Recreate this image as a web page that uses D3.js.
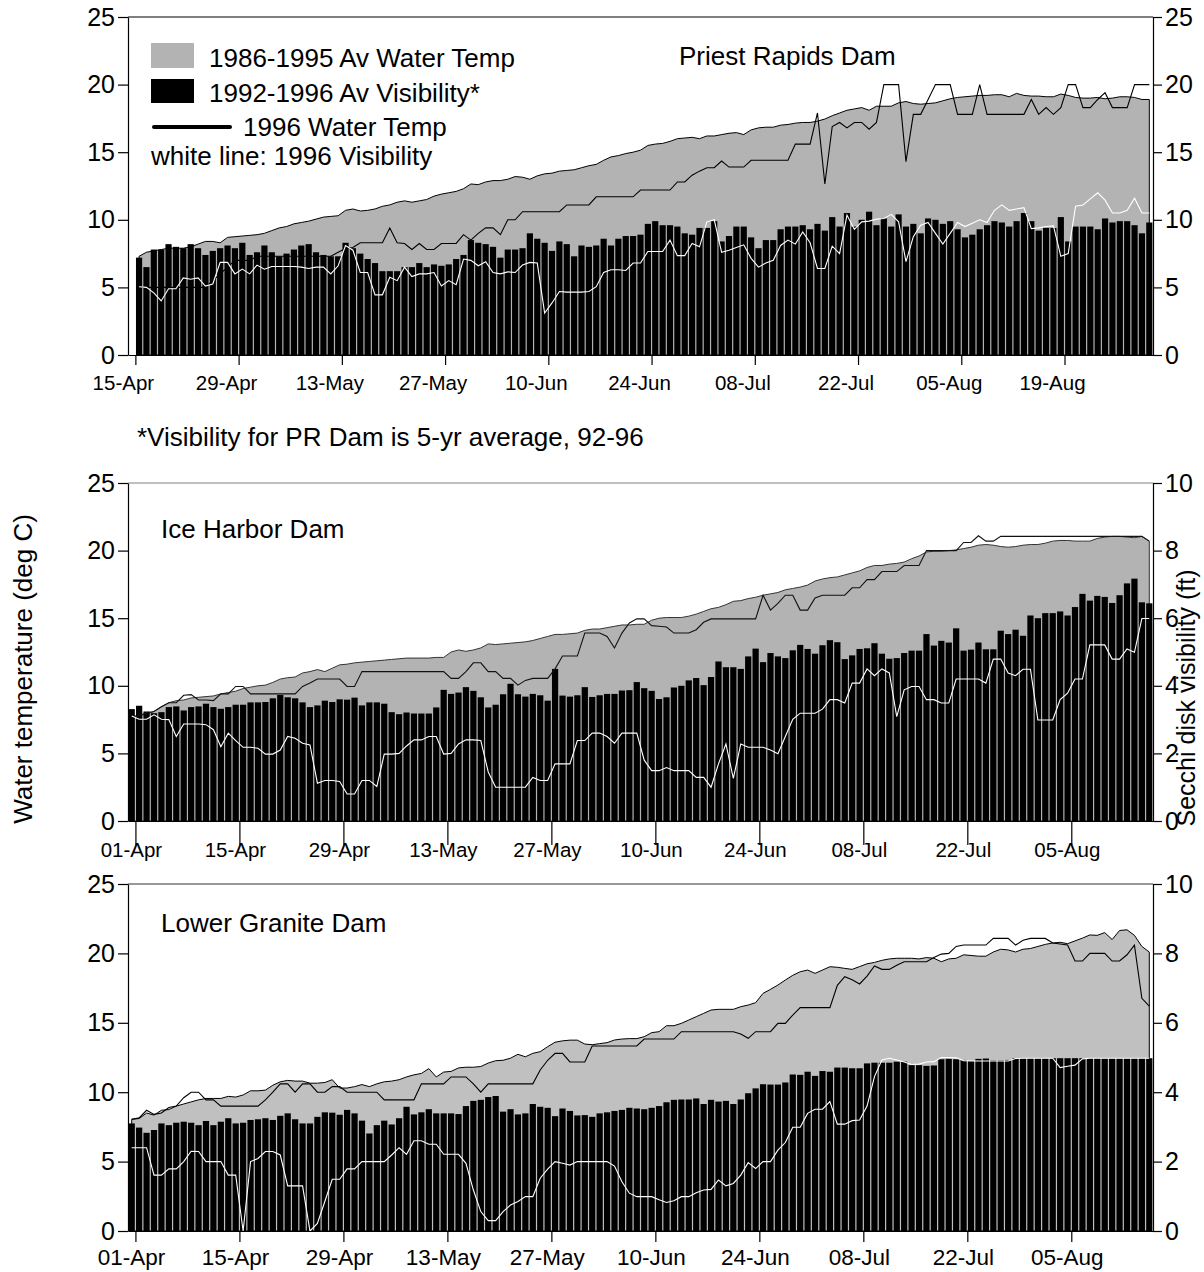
<!DOCTYPE html>
<html><head><meta charset="utf-8">
<script src="https://cdn.jsdelivr.net/npm/d3@7"></script>
<style>body{margin:0;background:#fff} text{font-family:"Liberation Sans",Arial,sans-serif;fill:#000}</style>
</head><body><svg id="c" width="1204" height="1272"></svg>
<script>
// ---------- Priest Rapids Dam (categories 15-Apr .. 31-Aug, first day empty) ----------
const prStart = "1996-04-15";
const prTickLabels = ["15-Apr","29-Apr","13-May","27-May","10-Jun","24-Jun","08-Jul","22-Jul","05-Aug","19-Aug"];
const prAvgVis = [null,
7.2,6.5,7.8,7.8,8.2,8.0,7.9,8.2,7.9,7.4, 7.7,7.9,8.1,7.9,8.3,7.4,7.6,8.1,7.6,7.3,
7.5,7.8,8.1,8.2,7.6,7.4,7.3,7.3,8.3,7.9, 7.5,7.1,6.8,6.2,6.2,6.2,6.5,6.5,6.8,6.5,
6.7,6.6,6.7,7.1,7.4,8.5,8.3,8.2,8.0,7.2, 7.8,7.8,7.9,9.0,8.6,8.3,7.7,8.4,8.2,7.3,
8.1,8.0,8.1,8.6,8.1,8.6,8.8,8.8,8.9,9.7, 9.9,9.6,9.6,9.5,9.0,8.9,9.4,9.4,9.9,8.4,
8.8,9.5,9.5,8.7,7.9,8.5,8.5,9.3,9.5,9.5, 9.6,9.3,9.7,9.2,10.2,9.5,10.5,9.5,10.0,10.6,
9.6,10.1,9.5,10.4,9.5,9.7,9.0,10.1,10.0,9.7, 9.9,9.3,8.7,8.9,9.3,9.6,9.9,9.8,9.5,9.9,
10.5,9.9,9.2,9.4,9.4,10.2,8.4,9.5,9.5,9.5, 9.3,10.1,9.8,9.9,9.9,9.6,9.0,9.8];
const prAvgTemp = [null,
7.3,7.6,7.7,7.8,7.9,7.9,7.9,8.0,8.2,8.4, 8.4,8.3,8.7,8.75,8.8,8.85,8.9,9.0,9.2,9.4,
9.5,9.7,9.8,9.9,10.05,10.2,10.25,10.3,10.7,10.8, 10.65,10.7,10.8,11.0,11.1,11.3,11.4,11.3,11.4,11.5,
11.75,11.9,12.0,12.1,12.3,12.65,12.6,12.8,12.9,12.9, 13.0,13.2,13.15,13.0,13.25,13.4,13.45,13.6,13.65,13.7,
13.85,14.0,14.1,14.4,14.65,14.75,14.9,15.0,15.15,15.5, 15.6,15.65,15.8,16.0,16.05,16.1,16.0,16.2,16.2,16.3,
16.4,16.45,16.3,16.65,16.8,16.85,16.85,17.0,17.05,17.15, 17.2,17.2,17.3,17.45,17.7,17.9,18.1,18.2,18.3,18.1,
18.4,18.4,18.4,18.65,18.75,18.6,18.55,18.6,18.65,18.8, 18.95,19.05,19.1,19.15,19.2,19.2,19.25,19.25,19.1,19.35,
19.2,19.15,19.15,19.1,19.1,19.3,19.2,19.05,19.0,19.0, 19.05,18.95,19.0,19.1,19.1,19.05,18.9,18.9];
const prTemp96 = [null,
5.0,5.0,5.0,5.0,5.0,5.0,5.0,5.0,5.0,5.0, 5.5,6.0,6.5,7.0,7.0,7.0,7.3,7.3,7.3,7.3,
7.3,7.3,7.3,7.3,7.3,7.3,7.3,7.6,7.9,7.95, 8.3,8.3,8.3,8.3,9.4,8.3,8.25,7.8,8.25,7.8,
7.8,8.25,8.25,8.25,8.9,8.5,9.0,9.4,9.4,8.9, 10.0,10.0,10.6,10.6,10.6,10.6,10.6,10.6,11.1,11.1,
11.1,11.1,11.7,11.7,11.7,11.7,11.7,11.7,12.2,12.2, 12.2,12.2,12.2,12.8,12.8,13.3,13.6,13.85,13.85,14.35,
13.9,13.9,13.9,14.4,14.4,14.4,14.4,14.4,14.4,15.6, 15.6,15.6,17.9,12.65,16.9,17.2,16.8,17.2,17.2,16.7,
17.2,20.0,20.0,20.0,14.3,17.8,17.8,18.9,20.0,20.0, 20.0,17.8,17.8,17.8,20.0,17.8,17.8,17.8,17.8,17.8,
17.8,18.9,17.8,18.3,17.8,18.3,20.0,20.0,18.3,18.3, 18.9,19.4,18.3,18.3,18.3,20.0,20.0,20.0];
const prVis96 = [null,
5.05,5.0,4.6,4.0,4.9,4.9,5.7,5.6,5.7,5.1, 5.25,6.85,6.85,6.0,6.35,6.0,6.65,6.35,6.55,6.55,
6.55,6.55,6.5,6.4,6.5,6.5,6.0,6.6,8.1,7.75, 6.1,6.1,4.45,4.45,5.75,5.5,6.5,5.8,6.0,6.0,
6.1,5.1,5.5,5.2,7.1,7.0,6.6,6.9,6.1,6.0, 6.15,6.1,6.65,6.85,6.8,3.1,3.85,4.7,4.65,4.65,
4.65,4.7,5.05,6.1,6.3,6.3,6.25,6.8,6.8,7.65, 7.65,7.65,8.5,7.35,7.35,8.25,8.0,9.85,10.0,7.6,
7.75,7.95,8.15,7.15,6.5,6.8,7.0,8.1,8.5,8.2, 9.1,8.3,6.4,6.4,8.05,7.5,10.35,9.3,9.85,9.9,
10.05,10.1,10.4,9.85,6.9,8.75,9.6,9.8,9.0,8.2, 9.0,9.8,9.5,9.75,10.0,9.8,10.7,11.1,10.7,10.8,
10.9,9.35,9.4,9.5,9.55,7.3,7.5,11.0,11.1,11.55, 12.0,11.45,10.5,10.5,10.7,11.6,10.5,10.5];

// ---------- Ice Harbor Dam (01-Apr .. 16-Aug) ----------
const ihStart = "1996-04-01";
const ihTickLabels = ["01-Apr","15-Apr","29-Apr","13-May","27-May","10-Jun","24-Jun","08-Jul","22-Jul","05-Aug"];
const ihAvgVis = [
3.31,3.41,3.24,3.19,3.22,3.37,3.39,3.27,3.37,3.39, 3.47,3.37,3.32,3.37,3.44,3.44,3.51,3.51,3.52,3.63,
3.73,3.66,3.63,3.51,3.37,3.42,3.56,3.52,3.6,3.59, 3.65,3.42,3.51,3.51,3.47,3.22,3.16,3.21,3.18,3.18,
3.18,3.36,3.88,3.76,3.8,3.96,3.85,3.66,3.36,3.44, 3.75,4.06,3.75,3.68,3.76,3.72,3.56,4.5,3.71,3.68,
3.72,3.96,3.67,3.72,3.76,3.76,3.86,3.87,4.11,3.93, 3.85,3.61,3.66,3.95,4.0,4.16,4.23,4.02,4.26,4.72,
4.55,4.55,4.5,4.87,5.1,4.7,4.97,4.87,4.82,5.05, 5.21,5.09,4.95,5.2,5.35,5.29,4.79,4.9,5.09,5.11,
5.26,4.95,4.8,4.82,4.97,5.04,5.04,5.53,5.19,5.33, 5.28,5.7,5.04,5.07,5.28,5.08,5.08,5.63,5.53,5.66,
5.48,6.08,6.0,6.15,6.15,6.2,6.08,6.33,6.72,6.52, 6.66,6.63,6.45,6.68,7.03,7.17,6.47,6.44];
const ihAvgTemp = [
7.7,7.8,7.9,8.1,8.45,8.75,8.9,8.95,9.1,9.15, 9.2,9.25,9.4,9.5,9.6,9.8,9.9,10.0,10.05,10.25,
10.5,10.6,10.65,10.95,11.05,11.2,11.05,11.3,11.55,11.6, 11.7,11.75,11.8,11.85,11.9,11.95,12.0,12.05,12.05,12.05,
12.05,12.1,12.1,12.5,12.65,12.55,12.65,12.8,13.1,13.05, 13.1,13.15,13.2,13.25,13.35,13.5,13.65,13.8,13.8,13.85,
13.9,14.1,14.2,14.2,14.3,14.4,14.5,14.5,14.55,14.55, 14.85,15.0,15.05,15.05,15.05,15.15,15.3,15.5,15.7,15.8,
16.0,16.25,16.3,16.45,16.55,16.7,16.8,16.9,17.1,17.2, 17.3,17.45,17.75,17.9,18.0,18.05,18.2,18.35,18.5,18.75,
18.9,18.9,19.0,19.05,19.15,19.4,19.6,19.9,19.95,19.95, 20.0,20.05,20.15,20.25,20.4,20.45,20.4,20.3,20.25,20.3,
20.4,20.45,20.45,20.55,20.7,20.75,20.75,20.7,20.7,20.7, 20.9,21.0,21.05,21.05,21.0,20.95,21.05,20.7];
const ihTemp96 = [
7.7,7.8,8.0,8.1,8.45,8.75,8.75,9.3,9.35,8.95, 8.95,8.9,9.4,9.4,9.95,9.95,9.4,9.4,9.4,9.4,
9.4,9.4,9.4,9.95,10.2,10.5,10.5,10.5,10.5,9.95, 9.95,11.05,11.05,11.05,11.05,11.05,11.05,11.05,11.05,11.05,
11.05,11.05,11.05,10.55,10.55,11.05,11.7,11.7,11.05,11.05, 10.55,10.55,10.05,10.4,10.55,10.55,10.55,11.25,12.2,12.2,
12.2,13.9,13.9,13.9,13.65,12.8,13.9,14.65,14.95,14.95, 14.45,14.4,14.35,13.9,13.9,13.9,14.15,14.7,14.95,14.95,
14.95,14.95,14.95,14.95,14.95,16.7,15.6,16.1,16.7,16.7, 15.6,15.6,16.5,16.7,16.7,16.7,16.7,17.25,17.25,17.85,
17.85,18.45,18.45,18.45,18.9,18.9,18.9,20.0,20.0,20.0, 20.0,20.0,20.6,20.6,21.1,20.7,20.7,21.05,21.05,21.05,
21.05,21.05,21.05,21.05,21.05,21.05,21.05,21.05,21.05,21.05, 21.05,21.05,21.05,21.05,21.05,21.05,21.05,20.7];
const ihVis96 = [
3.11,3.01,3.01,3.14,3.01,3.0,2.5,2.87,2.87,2.87, 2.85,2.7,2.2,2.6,2.38,2.18,2.18,2.15,1.98,1.98,
2.1,2.5,2.45,2.3,2.25,1.12,1.2,1.2,1.17,0.8, 0.8,1.2,1.2,1.02,1.98,1.98,2.0,2.22,2.4,2.4,
2.5,2.5,1.98,2.0,2.28,2.4,2.4,2.38,1.45,1.0, 1.0,1.0,1.0,1.0,1.29,1.2,1.2,1.69,1.69,1.69,
2.38,2.38,2.6,2.6,2.5,2.3,2.6,2.6,2.6,1.8, 1.49,1.49,1.58,1.49,1.49,1.49,1.29,1.29,1.0,1.69,
2.28,1.26,2.28,2.18,2.18,2.18,2.1,1.99,2.5,3.01, 3.19,3.19,3.19,3.31,3.59,3.59,3.49,4.08,4.08,4.5,
4.3,4.5,4.38,3.09,3.88,3.98,3.98,3.59,3.59,3.49, 3.49,4.2,4.2,4.2,4.2,4.08,4.79,4.79,4.38,4.3,
4.49,4.49,2.99,2.99,2.99,3.59,3.78,4.2,4.2,5.21, 5.21,5.21,4.79,4.79,5.09,4.99,5.99,5.99];

// ---------- Lower Granite Dam (01-Apr .. 16-Aug) ----------
const lgStart = "1996-04-01";
const lgTickLabels = ["01-Apr","15-Apr","29-Apr","13-May","27-May","10-Jun","24-Jun","08-Jul","22-Jul","05-Aug"];
const lgAvgVis = [
3.1,2.98,2.83,2.91,3.1,3.05,3.12,3.15,3.12,3.05, 3.17,3.05,3.15,3.25,3.1,3.12,3.2,3.22,3.25,3.2,
3.32,3.39,3.22,3.1,3.1,3.29,3.42,3.41,3.35,3.49, 3.39,3.18,2.81,3.05,3.18,3.07,3.25,3.58,3.36,3.42,
3.51,3.39,3.39,3.39,3.37,3.6,3.75,3.78,3.86,3.89, 3.44,3.51,3.36,3.39,3.66,3.58,3.55,3.31,3.53,3.46,
3.33,3.34,3.29,3.39,3.42,3.46,3.49,3.55,3.53,3.51, 3.55,3.6,3.71,3.78,3.79,3.79,3.82,3.66,3.78,3.73,
3.75,3.66,3.79,3.97,4.11,4.23,4.22,4.22,4.28,4.51, 4.5,4.59,4.47,4.61,4.59,4.71,4.71,4.69,4.69,4.83,
4.85,4.85,4.85,4.88,4.88,4.78,4.78,4.76,4.77,4.95, 4.96,4.95,4.93,4.9,4.96,4.97,4.92,4.92,4.93,4.98,
4.98,4.98,4.98,4.98,4.98,4.98,4.98,4.98,4.98,4.98, 4.98,4.98,4.98,4.98,4.98,4.98,4.98,4.98];
const lgAvgTemp = [
8.05,8.1,8.5,8.35,8.7,8.75,9.0,9.15,9.3,9.45, 9.55,9.55,9.55,9.7,9.65,9.8,10.1,10.1,10.15,10.5,
10.75,10.85,10.8,10.8,10.65,10.65,10.7,10.9,10.3,10.3, 10.4,10.55,10.4,10.6,10.75,10.8,10.9,11.1,11.25,11.35,
11.7,11.1,11.45,11.5,11.75,11.8,11.8,11.85,12.1,12.27, 12.3,12.45,12.73,12.55,12.8,12.92,13.28,13.6,13.7,13.75,
13.75,13.47,13.42,13.5,13.57,13.76,13.83,13.86,13.86,14.0, 14.29,14.36,14.79,14.79,14.96,15.2,15.44,15.68,15.92,15.97,
15.97,15.97,16.16,16.28,16.45,17.12,17.41,17.72,18.08,18.42, 18.68,18.8,18.56,18.8,19.04,19.0,18.92,18.85,19.05,19.25,
19.35,19.5,19.6,19.65,19.65,19.65,19.6,19.7,19.65,19.4, 19.6,19.65,19.9,19.85,19.8,19.8,20.1,20.3,20.25,20.1,
20.3,20.35,20.5,20.65,20.75,20.8,20.7,20.9,21.1,21.33, 21.3,21.5,21.0,21.65,21.7,21.3,20.5,20.1];
const lgTemp96 = [
8.05,8.15,8.7,8.4,8.5,8.9,9.0,9.6,10.0,10.0, 9.45,9.45,9.0,9.0,9.0,9.0,9.0,9.0,9.45,10.0,
10.6,10.6,10.0,10.6,10.6,10.0,10.0,10.4,10.4,10.0, 10.0,10.0,10.0,10.0,9.45,9.45,9.45,9.45,9.45,10.6,
10.6,10.6,10.6,11.1,11.1,11.1,10.6,10.0,10.6,10.6, 10.6,10.6,10.6,10.6,10.6,11.6,12.3,12.8,12.8,12.18,
12.18,12.18,13.33,13.33,13.33,13.33,13.33,13.33,13.33,13.83, 13.83,13.83,13.83,13.83,14.36,14.36,14.36,14.36,14.36,14.36,
14.36,14.36,14.2,13.88,14.36,14.36,14.36,14.96,14.96,15.56, 16.09,16.09,16.09,16.09,16.09,17.7,18.32,18.1,17.8,18.37,
19.1,18.85,18.85,19.15,19.4,19.4,19.4,19.4,19.7,19.95, 20.0,20.5,20.6,20.6,20.6,20.6,21.08,21.08,21.08,20.6,
20.95,21.08,21.08,21.08,20.75,20.68,20.6,19.45,19.45,20.0, 20.0,20.0,19.45,19.45,19.9,20.6,16.76,16.2];
const lgVis96 = [
2.4,2.4,2.4,1.61,1.61,1.79,1.79,2.0,2.3,2.29, 2.0,2.0,2.0,1.61,1.61,0,2.0,2.09,2.29,2.29,
2.19,1.3,1.3,1.3,0,0.22,0.85,1.49,1.49,1.79, 1.79,2.0,2.0,2.0,2.0,2.19,2.4,2.21,2.6,2.6,
2.5,2.5,2.21,2.21,2.21,1.95,1.18,0.56,0.3,0.3, 0.56,0.75,0.85,0.99,0.99,1.52,1.78,2.0,1.95,1.9,
2.0,2.0,2.0,2.0,2.0,1.87,1.42,1.09,0.99,0.99, 0.99,0.9,0.82,0.87,0.99,0.99,1.1,1.18,1.2,1.47,
1.3,1.37,1.61,1.97,1.8,2.0,2.0,2.33,2.55,2.99, 2.99,3.39,3.51,3.51,3.73,3.08,3.08,3.18,3.2,3.6,
4.45,4.93,4.98,4.93,4.87,4.8,4.81,4.87,4.88,5.0, 5.0,4.99,4.91,4.9,4.9,4.9,4.9,4.9,4.9,4.97,
4.98,4.98,4.98,4.98,4.98,4.71,4.75,4.78,4.96,4.98, 4.98,4.98,4.98,4.98,4.98,4.98,4.98,4.98];

const leftTicks = [0,5,10,15,20,25];
const prRightTicks = [0,5,10,15,20,25];
const lowerRightTicks = [0,2,4,6,8,10];

// ---------------------------------------------------------------
const svg = d3.select("#c");
const FONT = '"Liberation Sans", Arial, sans-serif';
const X0 = 128, X1 = 1153;

function drawPanel(p) {
  const g = svg.append("g");
  const n = p.avgTemp.length;
  const x = d3.scaleLinear().domain([0, n]).range([X0, X1]);
  const yL = d3.scaleLinear().domain([0, 25]).range([p.bottom, p.top]);
  const yR = d3.scaleLinear().domain([0, p.rightMax]).range([p.bottom, p.top]);
  const rows = p.avgTemp.map((t, i) => ({i, t, v: p.avgVis[i], t96: p.temp96[i], v96: p.vis96[i]}));
  const cx = d => x(d.i + 0.5);
  const step = x(1) - x(0);

  // average temperature area
  const area = d3.area().defined(d => d.t != null).x(cx).y0(yL(0)).y1(d => yL(d.t));
  g.append("path").datum(rows).attr("d", area)
    .attr("fill", p.areaFill).attr("stroke", p.areaStroke).attr("stroke-width", 1);

  // average visibility bars
  g.selectAll("rect.bar").data(rows.filter(d => d.v != null)).join("rect")
    .attr("class", "bar")
    .attr("x", d => x(d.i) + 0.6).attr("width", step - 1.2)
    .attr("y", d => yR(d.v)).attr("height", d => yR(0) - yR(d.v))
    .attr("fill", "#000");

  // 1996 water temperature (black) and visibility (white)
  g.append("path").datum(rows)
    .attr("d", d3.line().defined(d => d.t96 != null).x(cx).y(d => yL(d.t96)))
    .attr("fill", "none").attr("stroke", p.tempLine).attr("stroke-width", 1.1);
  g.append("path").datum(rows)
    .attr("d", d3.line().defined(d => d.v96 != null).x(cx).y(d => yR(d.v96)))
    .attr("fill", "none").attr("stroke", "#fff").attr("stroke-width", 1.1);

  // frame top
  g.append("line").attr("x1", X0).attr("x2", X1).attr("y1", p.top).attr("y2", p.top)
    .attr("stroke", p.topStroke).attr("stroke-width", 1.2);

  // axes
  const ax = g.append("g").attr("transform", `translate(${X0},0)`)
    .call(d3.axisLeft(yL).tickValues(leftTicks).tickSize(10).tickPadding(3).tickSizeOuter(0));
  const ar = g.append("g").attr("transform", `translate(${X1},0)`)
    .call(d3.axisRight(yR).tickValues(p.rightTicks).tickSize(9).tickPadding(3).tickSizeOuter(0));
  const tickBounds = p.tickLabels.map((_, k) => 14 * k + 1);
  const ab = g.append("g").attr("transform", `translate(0,${p.bottom})`)
    .call(d3.axisBottom(x).tickValues(tickBounds).tickFormat("").tickSize(p.xTickLen).tickSizeOuter(0));
  [ax, ar, ab].forEach(a => {
    a.attr("font-family", FONT).attr("font-size", 25);
    a.selectAll("path,line").attr("stroke", "#000").attr("stroke-width", 1.2);
    a.selectAll("text").attr("fill", "#000");
  });
  g.selectAll(".xl").data(p.tickLabels).join("text").attr("class", "xl")
    .attr("x", (d, k) => x(14 * k + 1) + p.labelShift).attr("y", p.xLabelY)
    .attr("text-anchor", "middle").attr("font-size", p.xLabelSize).text(d => d);

  g.append("text").attr("x", p.titleX).attr("y", p.titleY).attr("font-size", 26).text(p.title);
  return {x, yL, yR};
}

drawPanel({
  top: 17, bottom: 355, rightMax: 25, rightTicks: prRightTicks,
  avgTemp: prAvgTemp, avgVis: prAvgVis, temp96: prTemp96, vis96: prVis96,
  tickLabels: prTickLabels, xLabelY: 390, xLabelSize: 20.5, xTickLen: 10, labelShift: -12,
  areaFill: "#b3b3b3", areaStroke: "#000", tempLine: "#000", topStroke: "#000",
  title: "Priest Rapids Dam", titleX: 679, titleY: 65
});
drawPanel({
  top: 483, bottom: 821, rightMax: 10, rightTicks: lowerRightTicks,
  avgTemp: ihAvgTemp, avgVis: ihAvgVis, temp96: ihTemp96, vis96: ihVis96,
  tickLabels: ihTickLabels, xLabelY: 857, xLabelSize: 20.5, xTickLen: 24, labelShift: -4,
  areaFill: "#b3b3b3", areaStroke: "#333", tempLine: "#111", topStroke: "#808080",
  title: "Ice Harbor Dam", titleX: 161, titleY: 538
});
drawPanel({
  top: 884, bottom: 1231, rightMax: 10, rightTicks: lowerRightTicks,
  avgTemp: lgAvgTemp, avgVis: lgAvgVis, temp96: lgTemp96, vis96: lgVis96,
  tickLabels: lgTickLabels, xLabelY: 1265, xLabelSize: 22.5, xTickLen: 11, labelShift: -4,
  areaFill: "#c0c0c0", areaStroke: "#000", tempLine: "#000", topStroke: "#333",
  title: "Lower Granite Dam", titleX: 161, titleY: 932
});

// legend (top panel)
const lg = svg.append("g").attr("font-size", 26);
lg.append("rect").attr("x", 151).attr("y", 43).attr("width", 43).attr("height", 25).attr("fill", "#b3b3b3");
lg.append("rect").attr("x", 151).attr("y", 79).attr("width", 43).attr("height", 24).attr("fill", "#000");
lg.append("line").attr("x1", 154).attr("x2", 230).attr("y1", 127).attr("y2", 127)
  .attr("stroke", "#000").attr("stroke-width", 4).attr("stroke-linecap", "round");
lg.append("text").attr("x", 209).attr("y", 67).text("1986-1995 Av Water Temp");
lg.append("text").attr("x", 209).attr("y", 102).text("1992-1996 Av Visibility*");
lg.append("text").attr("x", 243).attr("y", 136).text("1996 Water Temp");
lg.append("text").attr("x", 151).attr("y", 165).text("white line: 1996 Visibility");

svg.append("text").attr("x", 137).attr("y", 446).attr("font-size", 26)
  .text("*Visibility for PR Dam is 5-yr average, 92-96");

svg.append("text").attr("transform", "translate(32,669) rotate(-90)")
  .attr("text-anchor", "middle").attr("font-size", 26).text("Water temperature (deg C)");
svg.append("text").attr("transform", "translate(1195,698) rotate(-90)")
  .attr("text-anchor", "middle").attr("font-size", 25).text("Secchi disk visibility (ft)");
</script></body></html>
